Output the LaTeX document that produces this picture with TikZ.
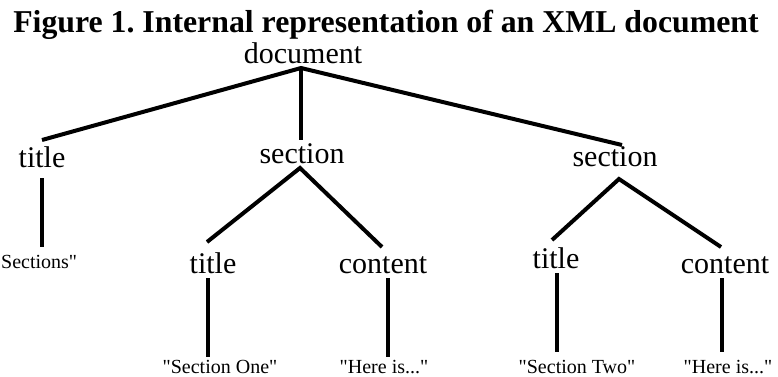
\documentclass[tikz,border=0pt]{standalone}
\usepackage{fontspec}
\setmainfont{Liberation Serif}[Ligatures=TeXOff]
\begin{document}
\frenchspacing
\begin{tikzpicture}[x=1pt,y=-1pt,
  lbl/.style={inner sep=0pt,anchor=base,font=\fontsize{30}{30}\selectfont},
  leaf/.style={inner sep=0pt,anchor=base,font=\fontsize{20}{20}\selectfont},
  edge/.style={line width=4pt,line cap=butt,line join=miter}]
\useasboundingbox (0,0) rectangle (778,376);
\node[inner sep=0pt,anchor=base,font=\bfseries\fontsize{31.8}{31.8}\selectfont] (fig) at (386,32) {Figure 1. Internal representation of an XML document};
\node[lbl] (doc) at (303,63) {document};
\node[lbl] (s1) at (302,163) {section};
\node[lbl] (s2) at (615,166) {section};
\node[lbl] (t1) at (42,167) {title};
\node[lbl] (t2) at (213,273) {title};
\node[lbl] (c1) at (383,273) {content};
\node[lbl] (t3) at (556,268) {title};
\node[lbl] (c2) at (725,273) {content};
\node[leaf,anchor=base west] (l0) at (1,268) {Sections"};
\node[leaf] (l1) at (220,373) {"Section One"};
\node[leaf] (l2) at (384,373) {"Here is..."};
\node[leaf] (l3) at (577,373) {"Section Two"};
\node[leaf] (l4) at (728,373) {"Here is..."};
% connectors, anchored on the nodes' baselines
\draw[edge] ([shift={(0,-27)}]t1.base) -- ([shift={(-2,5)}]doc.base) -- ([shift={(7,-21)}]s2.base);
\draw[edge] ([shift={(-2,5)}]doc.base) -- ([shift={(-1,-23)}]s1.base);
\draw[edge] ([shift={(-6,-31)}]t2.base) -- ([shift={(-2,5)}]s1.base) -- ([shift={(-1,-26)}]c1.base);
\draw[edge] ([shift={(-4,-28)}]t3.base) -- ([shift={(4,13)}]s2.base) -- ([shift={(-4,-26)}]c2.base);
\draw[edge] ([shift={(0,11)}]t1.base) -- ([shift={(41,-21)}]l0.base west);
\draw[edge] ([shift={(-5,5)}]t2.base) -- ([shift={(-12,-16)}]l1.base);
\draw[edge] ([shift={(5,5)}]c1.base) -- ([shift={(4,-16)}]l2.base);
\draw[edge] ([shift={(1,5)}]t3.base) -- ([shift={(-20,-21)}]l3.base);
\draw[edge] ([shift={(-3,5)}]c2.base) -- ([shift={(-6,-21)}]l4.base);
\end{tikzpicture}
\end{document}
